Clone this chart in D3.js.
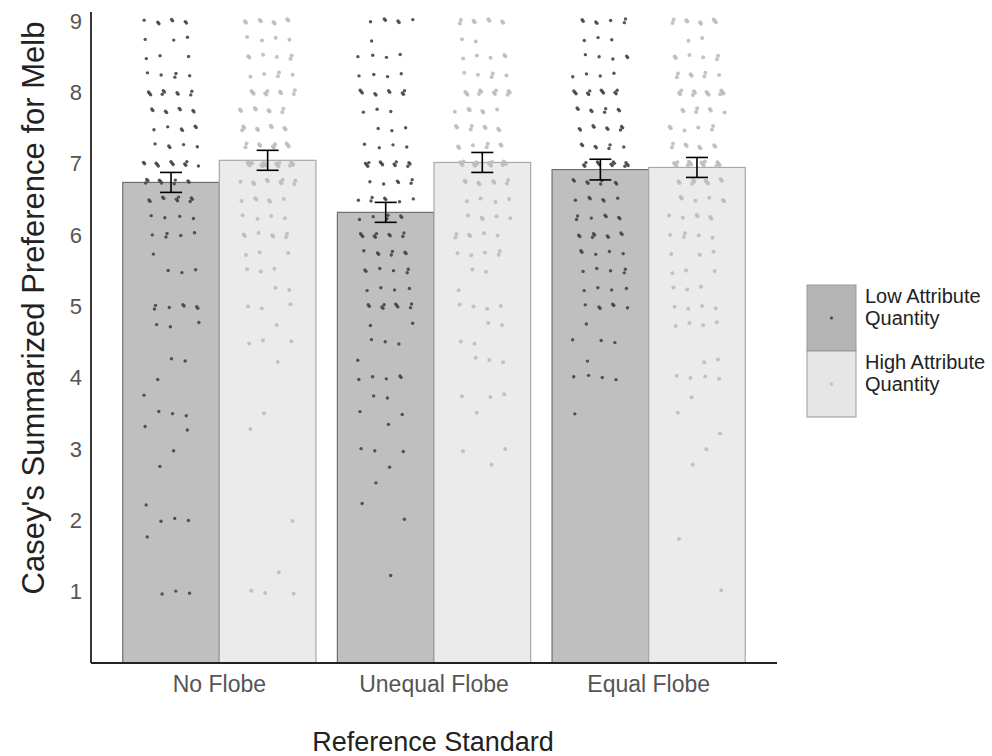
<!DOCTYPE html>
<html>
<head>
<meta charset="utf-8">
<script src="https://cdn.jsdelivr.net/npm/d3@7"></script>
<style>
  body { margin: 0; background: #fff; }
  svg { font-family: "Liberation Sans", Arial, sans-serif; }
</style>
</head>
<body>
<svg id="chart" width="992" height="756"></svg>
<script>
// categories and series
const standards = ["No Flobe", "Unequal Flobe", "Equal Flobe"]
const quantities = ["Low Attribute Quantity", "High Attribute Quantity"]

// bar means and standard errors, [low, high] per standard
const means = [[6.74, 7.05], [6.32, 7.02], [6.92, 6.95]]
const errs = [[0.14, 0.14], [0.14, 0.14], [0.145, 0.14]]

// individual responses as [value, count]
const noFlobeLow = [[9,7],[8.75,3],[8.5,3],[8.25,5],[8,10],[7.75,8],[7.5,6],[7.25,5],[7,12],[6.75,10],[6.5,10],[6.25,4],[6,5],[5.75,1],[5.5,3],[5,7],[4.75,3],[4.25,2],[4,1],[3.75,1],[3.5,3],[3.33,1],[3.25,1],[3,1],[2.75,1],[2.25,1],[2,3],[1.75,1],[1,3]]
const noFlobeHigh = [[9,8],[8.75,4],[8.5,6],[8.25,5],[8,10],[7.75,8],[7.5,9],[7.25,10],[7,18],[6.75,10],[6.5,6],[6.25,4],[6,7],[5.75,3],[5.5,3],[5.25,2],[5,3],[4.75,1],[4.5,3],[4.25,1],[3.5,1],[3.25,1],[2,1],[1.25,1],[1,3]]
const unequalLow = [[9,6],[8.75,1],[8.5,4],[8.25,4],[8,10],[7.75,3],[7.5,3],[7.25,4],[7,13],[6.75,6],[6.5,7],[6.25,6],[6,10],[5.75,7],[5.5,6],[5.25,4],[5,10],[4.75,2],[4.5,3],[4.25,1],[4,5],[3.75,2],[3.5,2],[3.33,1],[3,3],[2.75,1],[2.5,1],[2.25,1],[2,1],[1.25,1]]
const unequalHigh = [[9,8],[8.75,2],[8.5,5],[8.25,5],[8,12],[7.75,6],[7.5,8],[7.25,7],[7,16],[6.75,8],[6.5,4],[6.25,5],[6,6],[5.75,5],[5.5,2],[5.25,1],[5,4],[4.75,2],[4.5,2],[4.25,3],[3.75,3],[3.5,1],[3,2],[2.75,1]]
const equalLow = [[9,7],[8.75,3],[8.5,5],[8.25,4],[8,12],[7.75,8],[7.5,9],[7.25,7],[7,14],[6.75,8],[6.5,6],[6.25,7],[6,9],[5.75,5],[5.5,5],[5.25,4],[5,6],[4.75,1],[4.5,3],[4.25,1],[4,4],[3.5,1]]
const equalHigh = [[9,9],[8.75,2],[8.5,6],[8.25,7],[8,13],[7.75,7],[7.5,6],[7.25,8],[7,16],[6.75,10],[6.5,6],[6.25,6],[6,5],[5.75,3],[5.5,3],[5.25,3],[5,4],[4.75,4],[4.25,2],[4,4],[3.75,1],[3.5,1],[3.25,1],[3,1],[2.75,1],[1.75,1],[1,1]]
const responses = [[noFlobeLow, noFlobeHigh], [unequalLow, unequalHigh], [equalLow, equalHigh]]

const yTicks = [1, 2, 3, 4, 5, 6, 7, 8, 9]

const barFill = ["#bfbfbf", "#ebebeb"]
const barStroke = ["#6f6f6f", "#a8a8a8"]
const dotFill = ["#444", "#bdbdbd"]
const legendFill = ["#b4b4b4", "#e6e6e6"]

const svg = d3.select("#chart")

const x = d3.scaleBand().domain(standards).range([112, 756]).paddingInner(0.1).paddingOuter(0.05)
const xSub = d3.scaleBand().domain([0, 1]).range([0, x.bandwidth()])
const y = d3.scaleLinear().domain([0, 9.13]).range([663, 12])

// bars
const bars = []
standards.forEach((s, i) => {
  quantities.forEach((q, j) => {
    bars.push({ s, j, mean: means[i][j], se: errs[i][j], pts: responses[i][j] })
  })
})

svg.append("g")
  .selectAll("rect")
  .data(bars)
  .join("rect")
  .attr("x", (d) => x(d.s) + xSub(d.j))
  .attr("y", (d) => y(d.mean))
  .attr("width", xSub.bandwidth())
  .attr("height", (d) => y(0) - y(d.mean))
  .attr("fill", (d) => barFill[d.j])
  .attr("stroke", (d) => barStroke[d.j])
  .attr("stroke-width", 1.2)

// jittered points (deterministic spread, no random numbers)
let k = 0
const dots = []
bars.forEach((b) => {
  b.pts.forEach(([v, c]) => {
    for (let n = 0; n < c; n++) {
      k++
      const jx = ((k * 0.7548776662) % 1) - 0.5
      const jy = ((k * 0.5698402910) % 1) - 0.5
      dots.push({ s: b.s, j: b.j, v, jx, jy })
    }
  })
})

svg.append("g")
  .selectAll("circle")
  .data(dots)
  .join("circle")
  .attr("cx", (d) => x(d.s) + xSub(d.j) + xSub.bandwidth() / 2 + d.jx * 56)
  .attr("cy", (d) => y(d.v) + d.jy * 5)
  .attr("r", (d) => (d.j === 0 ? 1.7 : 2))
  .attr("fill", (d) => dotFill[d.j])
  .attr("opacity", 0.9)

// error bars
const eb = svg.append("g").attr("stroke", "#000").attr("stroke-width", 1.6)
bars.forEach((b) => {
  const cx = x(b.s) + xSub(b.j) + xSub.bandwidth() / 2
  eb.append("line").attr("x1", cx).attr("x2", cx).attr("y1", y(b.mean + b.se)).attr("y2", y(b.mean - b.se))
  eb.append("line").attr("x1", cx - 11).attr("x2", cx + 11).attr("y1", y(b.mean + b.se)).attr("y2", y(b.mean + b.se))
  eb.append("line").attr("x1", cx - 11).attr("x2", cx + 11).attr("y1", y(b.mean - b.se)).attr("y2", y(b.mean - b.se))
})

// axes
const yAxis = svg.append("g")
  .attr("transform", "translate(91,0)")
  .call(d3.axisLeft(y).tickValues(yTicks).tickSize(0).tickPadding(9).tickFormat(d3.format("d")))
yAxis.select(".domain").remove()
yAxis.selectAll("text").attr("font-size", 22).attr("fill", "#555").attr("font-family", "Liberation Sans, Arial, sans-serif")

svg.append("line").attr("x1", 91).attr("x2", 91).attr("y1", 12).attr("y2", 663)
  .attr("stroke", "#222").attr("stroke-width", 1.8)

const xAxis = svg.append("g")
  .attr("transform", "translate(0,663)")
  .call(d3.axisBottom(x).tickSize(0).tickPadding(13))
xAxis.select(".domain").remove()
xAxis.selectAll("text").attr("font-size", 23).attr("fill", "#555").attr("font-family", "Liberation Sans, Arial, sans-serif")

svg.append("line").attr("x1", 91).attr("x2", 777).attr("y1", 663).attr("y2", 663)
  .attr("stroke", "#222").attr("stroke-width", 1.8)

// titles
svg.append("text")
  .attr("transform", "translate(44,308) rotate(-90)")
  .attr("text-anchor", "middle")
  .attr("font-size", 31)
  .attr("fill", "#222")
  .text("Casey's Summarized Preference for Melb")

svg.append("text")
  .attr("x", 433).attr("y", 751)
  .attr("text-anchor", "middle")
  .attr("font-size", 27)
  .attr("fill", "#222")
  .text("Reference Standard")

// legend
const legend = svg.append("g").attr("transform", "translate(807,285)")
quantities.forEach((q, j) => {
  const g = legend.append("g").attr("transform", `translate(0,${j * 66})`)
  g.append("rect").attr("width", 49).attr("height", 66)
    .attr("fill", legendFill[j]).attr("stroke", "#999").attr("stroke-width", 1)
  g.append("circle").attr("cx", 24.5).attr("cy", 33).attr("r", 1.6).attr("fill", dotFill[j])
  const words = q.split(" ")
  g.append("text").attr("x", 58).attr("y", 18).attr("font-size", 20).attr("fill", "#222")
    .text(words.slice(0, 2).join(" "))
  g.append("text").attr("x", 58).attr("y", 40).attr("font-size", 20).attr("fill", "#222")
    .text(words.slice(2).join(" "))
})
</script>
</body>
</html>
